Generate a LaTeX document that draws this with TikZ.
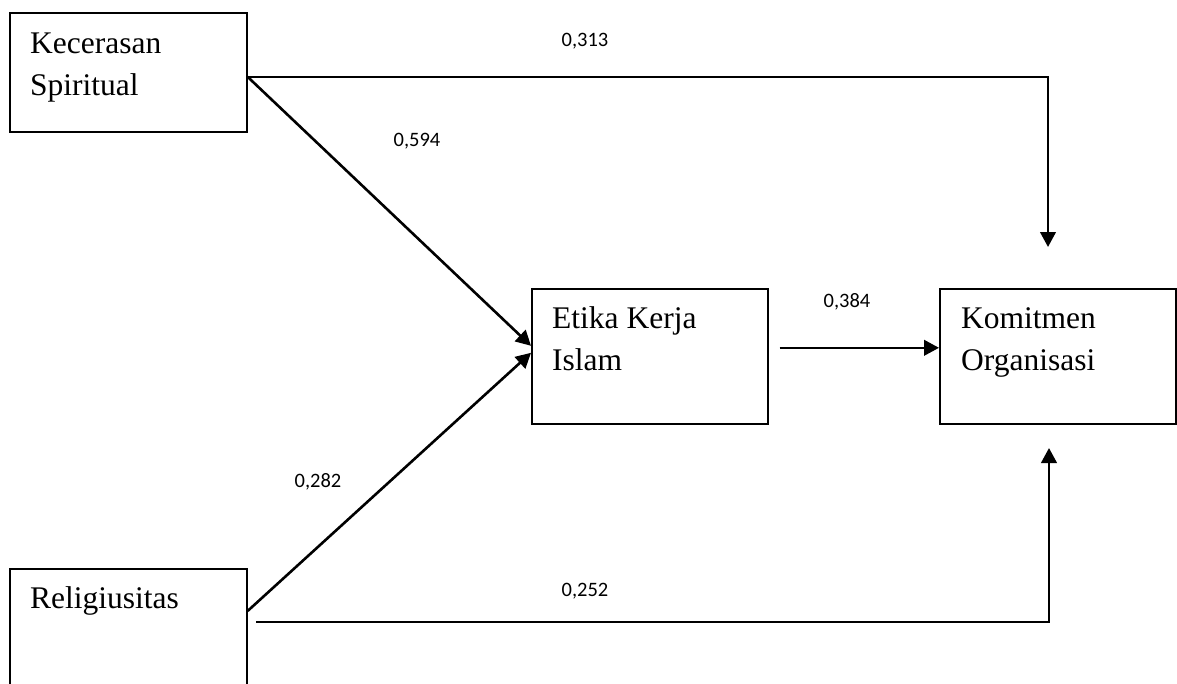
\documentclass[tikz,border=0pt]{standalone}
\usepackage{fontspec}
\setmainfont{Liberation Serif}
\newfontfamily\lblfont{Carlito}
\usetikzlibrary{arrows.meta}

\tikzset{
  box/.style={draw=black, line width=1.6pt, fill=none, anchor=north west, inner sep=0pt},
  boxtext/.style={anchor=north west, inner sep=0pt, align=left,
    font=\fontsize{31.5}{42}\selectfont},
  conn/.style={draw=black, line width=2.6pt,
    -{Triangle[length=15pt,width=15.5pt]}},
  coef/.style={anchor=base, inner sep=0pt, font=\lblfont\fontsize{20.5}{24}\selectfont}
}
% fixed-height strut so each caption's first baseline sits 29.4pt below its node top
\newcommand{\capstrut}{\rule{0pt}{29.4pt}}

\begin{document}
\begin{tikzpicture}[x=1pt,y=-1pt]
  \useasboundingbox (0,0) rectangle (1177,683);
  \clip (0,0) rectangle (1177,683);
  \fill[white] (0,0) rectangle (1177,683);

  % variable boxes
  \node[box, minimum width=237pt, minimum height=119pt] (b1) at (9,12) {};
  \node[box, minimum width=236pt, minimum height=135pt] (b2) at (531,288) {};
  \node[box, minimum width=236pt, minimum height=135pt] (b3) at (939,288) {};
  \node[box, minimum width=237pt, minimum height=132pt] (b4) at (9,568) {};

  % box captions
  \node[boxtext] (t1) at (30,23.6) {\capstrut Kecerasan\\Spiritual};
  \node[boxtext] (t2) at (552,298.6) {\capstrut Etika Kerja\\Islam};
  \node[boxtext] (t3) at (961,298.6) {\capstrut Komitmen\\Organisasi};
  \node[boxtext] (t4) at (30,578.6) {\capstrut Religiusitas};

  % free ends of the outer paths
  \coordinate (e313) at (1048,247);
  \coordinate (s252) at (256,622);
  \coordinate (e252) at (1049,448);

  % paths
  \draw[conn] ([yshift=-4.5pt]b1.east) -| (e313);
  \draw[conn] ([yshift=-4.5pt]b1.east) -- ([yshift=10.5pt]b2.west);
  \draw[conn] ([yshift=-43pt]b4.north east) -- ([yshift=3.5pt]b2.west);
  \draw[conn] ([shift={(11pt,8.5pt)}]b2.east) -- ([yshift=8.5pt]b3.west);
  \draw[conn] (s252) -| (e252);

  % path coefficients
  \node[coef] (c313) at (585,46) {0,313};
  \node[coef] (c594) at (417,146) {0,594};
  \node[coef] (c384) at (847,307) {0,384};
  \node[coef] (c282) at (318,487) {0,282};
  \node[coef] (c252) at (585,596) {0,252};
\end{tikzpicture}
\end{document}
